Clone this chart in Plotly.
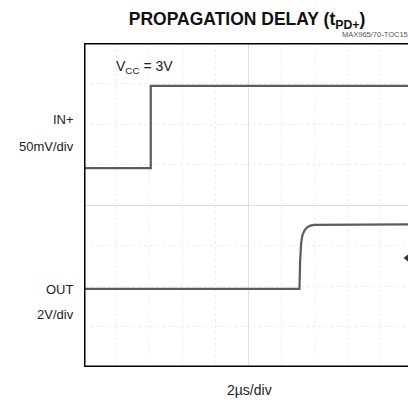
import plotly.graph_objects as go

# Scope traces in divisions (x: time divisions, y: vertical divisions, center = 0)
in_x = [-5.0, -2.97, -2.97, 4.85]
in_y = [0.91, 0.91, 2.94, 2.94]
out_x = [-5.0, 1.55, 1.57, 1.60, 1.64, 1.70, 1.78, 1.88, 2.00, 4.85]
out_y = [-2.07, -2.07, -1.40, -0.95, -0.75, -0.63, -0.55, -0.51, -0.49, -0.48]
marker_x = [4.82]
marker_y = [-1.31]

FONT = "Liberation Sans, Arial, Helvetica, sans-serif"

fig = go.Figure()
fig.add_trace(go.Scatter(x=in_x, y=in_y, mode="lines",
                         line=dict(color="#5c5c5c", width=2.2), hoverinfo="skip"))
fig.add_trace(go.Scatter(x=out_x, y=out_y, mode="lines",
                         line=dict(color="#5c5c5c", width=2.2), hoverinfo="skip"))
fig.add_trace(go.Scatter(x=marker_x, y=marker_y, mode="markers",
                         marker=dict(symbol="triangle-left", size=7, color="#333"),
                         hoverinfo="skip"))

fig.update_layout(
    width=408, height=400,
    margin=dict(l=84, r=0, t=43, b=33),
    plot_bgcolor="white", paper_bgcolor="white",
    showlegend=False,
    font=dict(family=FONT, color="#222", size=13),
    title=dict(text="<b>PROPAGATION DELAY (t<sub>PD+</sub>)</b>",
               x=247/408, xanchor="center", y=1-19/400, yanchor="middle",
               font=dict(family=FONT, size=17.5, color="#111")),
)
fig.update_xaxes(range=[-5, 4.85], dtick=1, showticklabels=False, ticks="",
                 showgrid=True, gridcolor="#eeeeee", griddash="dot", gridwidth=1,
                 zeroline=True, zerolinecolor="#e0e0e0", zerolinewidth=1,
                 showline=False, fixedrange=True)
fig.update_yaxes(range=[-4, 4], dtick=1, showticklabels=False, ticks="",
                 showgrid=True, gridcolor="#eeeeee", griddash="dot", gridwidth=1,
                 zeroline=True, zerolinecolor="#e0e0e0", zerolinewidth=1,
                 showline=False, fixedrange=True)

# frame (left, top, bottom; right side is cut off)
fig.add_shape(type="line", xref="x", yref="y", x0=-5, x1=-5, y0=-4, y1=4,
              line=dict(color="black", width=3))
fig.add_shape(type="line", xref="x", yref="y", x0=-5, x1=4.85, y0=4, y1=4,
              line=dict(color="black", width=3))
fig.add_shape(type="line", xref="x", yref="y", x0=-5, x1=4.85, y0=-4, y1=-4,
              line=dict(color="black", width=3))

def px(x):
    return (x - 84) / 324

def py(y):
    return (367 - y) / 324

annots = [
    dict(text="MAX965/70-TOC15", x=px(410), y=py(35), xanchor="right", yanchor="middle",
         font=dict(size=7.5, color="#555")),
    dict(text="IN+", x=px(76), y=py(120), xanchor="right", yanchor="middle"),
    dict(text="50mV/div", x=px(76), y=py(146), xanchor="right", yanchor="middle"),
    dict(text="OUT", x=px(76), y=py(289), xanchor="right", yanchor="middle"),
    dict(text="2V/div", x=px(76), y=py(314), xanchor="right", yanchor="middle"),
    dict(text="V<sub>CC</sub> = 3V", x=px(114), y=py(67), xanchor="left", yanchor="middle",
         font=dict(size=14)),
    dict(text="2µs/div", x=px(249), y=py(390), xanchor="center", yanchor="middle",
         font=dict(size=14)),
]
for a in annots:
    fig.add_annotation(xref="paper", yref="paper", showarrow=False, **a)

fig.write_html("out.html", config={"displayModeBar": False},
               post_script="document.body.style.margin='0';")
